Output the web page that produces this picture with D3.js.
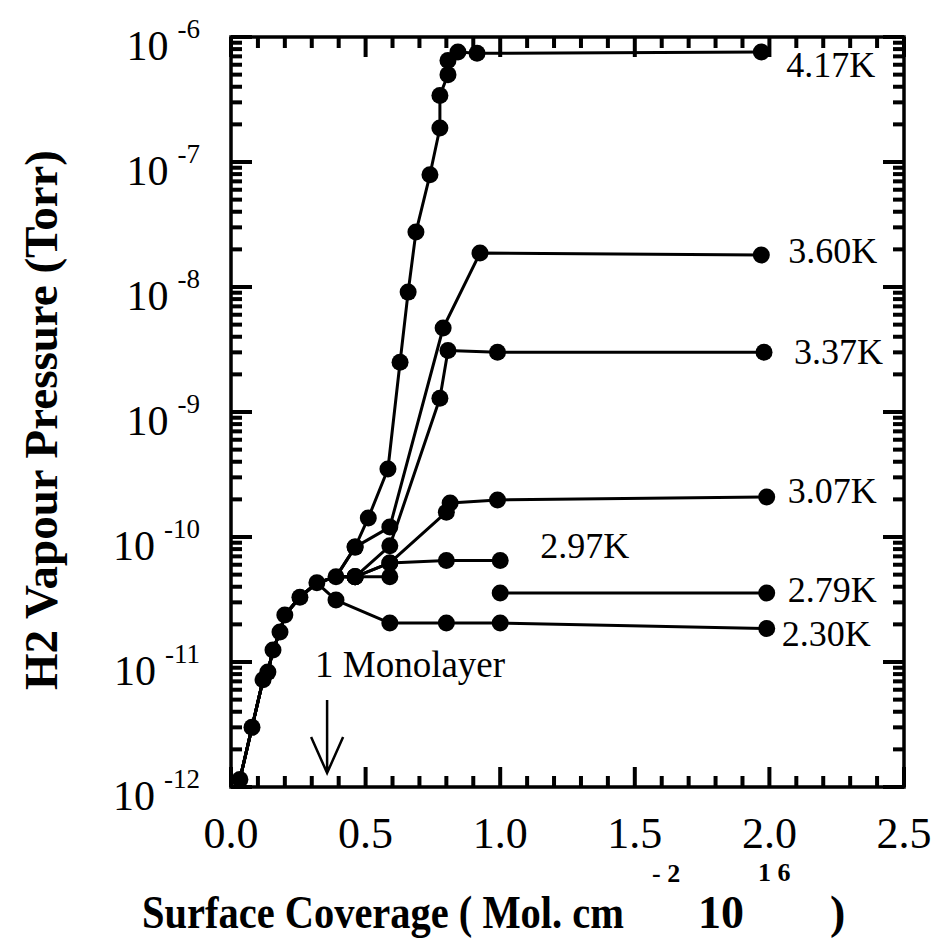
<!DOCTYPE html>
<html><head><meta charset="utf-8">
<script src="https://cdn.jsdelivr.net/npm/d3@7"></script>
<style>
body{margin:0;background:#fff}
text{font-family:"Liberation Serif","Times New Roman",serif;fill:#000}
</style>
</head><body>
<svg id="c" width="938" height="945"></svg>
<script>
// ---------- data ----------
const xMajorTicks = [0, 0.5, 1.0, 1.5, 2.0, 2.5];
const xTickLabels = ["0.0", "0.5", "1.0", "1.5", "2.0", "2.5"];
const yDecadeExponents = [-6, -7, -8, -9, -10, -11, -12];

// common low-coverage branch (coverage, pressure Torr)
const sharedBranch = [[0.033,1.15e-12],[0.078,3.0e-12],[0.119,7.2e-12],[0.137,8.3e-12],[0.156,1.25e-11],[0.182,1.74e-11],[0.2,2.38e-11],[0.256,3.3e-11],[0.319,4.3e-11]];
const peakPoint = [[0.39,4.8e-11]];

const series417 = [[0.461,8.3e-11],[0.51,1.42e-10],[0.583,3.5e-10],[0.628,2.5e-9],[0.658,9.1e-9],[0.687,2.75e-8],[0.739,7.9e-8],[0.776,1.87e-7],[0.776,3.4e-7],[0.806,5.0e-7],[0.806,6.5e-7],[0.843,7.6e-7],[0.914,7.4e-7],[1.97,7.6e-7]];
const series360 = [[0.461,8.3e-11],[0.59,1.2e-10],[0.788,4.7e-9],[0.925,1.87e-8],[1.97,1.8e-8]];
const series337 = [[0.461,4.8e-11],[0.59,8.5e-11],[0.776,1.29e-9],[0.806,3.1e-9],[0.99,3.0e-9],[1.98,3.0e-9]];
const series307 = [[0.461,4.8e-11],[0.59,6.2e-11],[0.80,1.58e-10],[0.814,1.87e-10],[0.99,1.98e-10],[1.99,2.09e-10]];
const series297 = [[0.461,4.8e-11],[0.59,6.2e-11],[0.80,6.5e-11],[1.0,6.5e-11]];
const series279low = [[0.461,4.8e-11],[0.59,4.8e-11]];
const series279 = [[1.0,3.56e-11],[1.99,3.56e-11]];
const series230 = [[0.39,3.13e-11],[0.59,2.05e-11],[0.80,2.05e-11],[1.0,2.05e-11],[1.99,1.85e-11]];

const seriesLabels = ["4.17K","3.60K","3.37K","3.07K","2.97K","2.79K","2.30K"];
const monolayerCoverage = 0.357;

// ---------- layout ----------
const plot = {left: 231, right: 904, top: 37, bottom: 787};
const labelOffsets = [[25,25],[27,8],[30,12],[21,6],[40,-2],[21,9],[15,17]];

const svg = d3.select("#c");
const x = d3.scaleLinear().domain([0, 2.5]).range([plot.left, plot.right]);
const y = d3.scaleLog().domain([1e-12, 1e-6]).range([plot.bottom, plot.top]);

const minorX = d3.range(1, 25).filter(i => i % 5 !== 0).map(i => i / 10);
const majorY = yDecadeExponents.map(e => Math.pow(10, e));
const minorY = [];
for (let e = -12; e < -6; e++) for (let k = 2; k <= 9; k++) minorY.push(k * Math.pow(10, e));

// frame
svg.append("rect").attr("x", plot.left).attr("y", plot.top)
  .attr("width", plot.right - plot.left).attr("height", plot.bottom - plot.top)
  .attr("fill", "none").attr("stroke", "#000").attr("stroke-width", 3.5);

// ticks (inward) drawn as filled rects
const tickW = 4;
const xt = [];
xMajorTicks.forEach(v => xt.push({p: x(v), len: 20}));
minorX.forEach(v => xt.push({p: x(v), len: 11}));
const ytk = [];
majorY.forEach(v => ytk.push({p: y(v), len: 21}));
minorY.forEach(v => ytk.push({p: y(v), len: 11}));
const tg = svg.append("g").attr("fill", "#000");
tg.selectAll("rect.xb").data(xt).join("rect").attr("class", "xb")
  .attr("x", d => d.p - tickW / 2).attr("y", d => plot.bottom - d.len).attr("width", tickW).attr("height", d => d.len);
tg.selectAll("rect.xtp").data(xt).join("rect").attr("class", "xtp")
  .attr("x", d => d.p - tickW / 2).attr("y", plot.top).attr("width", tickW).attr("height", d => d.len);
tg.selectAll("rect.yl").data(ytk).join("rect").attr("class", "yl")
  .attr("x", plot.left).attr("y", d => d.p - tickW / 2).attr("width", d => d.len).attr("height", tickW);
tg.selectAll("rect.yr").data(ytk).join("rect").attr("class", "yr")
  .attr("x", d => plot.right - d.len).attr("y", d => d.p - tickW / 2).attr("width", d => d.len).attr("height", tickW);

// x tick labels
svg.append("g").selectAll("text").data(xMajorTicks).join("text")
  .attr("x", d => x(d)).attr("y", 848).attr("text-anchor", "middle")
  .attr("font-size", 44).text((d, i) => xTickLabels[i]);

// y tick labels 10^n
const yl = svg.append("g").selectAll("text").data(yDecadeExponents).join("text")
  .attr("x", 200).attr("y", e => y(Math.pow(10, e)) + 23)
  .attr("text-anchor", "end").attr("font-size", 42);
yl.append("tspan").text("10");
yl.append("tspan").attr("dx", 9).attr("dy", -22).attr("font-size", 27).text(e => "-" + Math.abs(e));

// series
const segs = [
  sharedBranch.concat(peakPoint, series417),
  sharedBranch.concat(peakPoint, series360),
  sharedBranch.concat(peakPoint, series337),
  sharedBranch.concat(peakPoint, series307),
  sharedBranch.concat(peakPoint, series297),
  peakPoint.concat(series279low),
  series279,
  sharedBranch.concat(series230)
];
const line = d3.line().x(d => x(d[0])).y(d => y(d[1]));
svg.append("g").selectAll("path").data(segs).join("path")
  .attr("d", line).attr("fill", "none").attr("stroke", "#000")
  .attr("stroke-width", 3).attr("stroke-linejoin", "round");
const allPts = [].concat(sharedBranch, peakPoint, series417, series360, series337, series307, series297, series279low, series279, series230);
svg.append("g").selectAll("circle").data(allPts).join("circle")
  .attr("cx", d => x(d[0])).attr("cy", d => y(d[1])).attr("r", 8.5).attr("fill", "#000");

// series labels
const lastPts = [series417, series360, series337, series307, series297, series279, series230].map(s => s[s.length - 1]);
svg.append("g").selectAll("text").data(seriesLabels).join("text")
  .attr("x", (d, i) => x(lastPts[i][0]) + labelOffsets[i][0])
  .attr("y", (d, i) => y(lastPts[i][1]) + labelOffsets[i][1])
  .attr("font-size", 36).text(d => d);

// monolayer annotation
const mx = x(monolayerCoverage);
svg.append("text").attr("x", 315).attr("y", 677).attr("font-size", 37).text("1 Monolayer");
svg.append("path").attr("d", `M${mx},700 L${mx},773 M${mx-16},737 L${mx},773 L${mx+16},737`)
  .attr("fill", "none").attr("stroke", "#000").attr("stroke-width", 2.5);

// x axis title (single text element)
const xtt = svg.append("text").attr("y", 928).attr("font-size", 46).attr("font-weight", "bold");
xtt.append("tspan").attr("x", 142).attr("textLength", 482).attr("lengthAdjust", "spacingAndGlyphs").text("Surface Coverage ( Mol. cm");
xtt.append("tspan").attr("x", 652).attr("y", 882).attr("font-size", 26).text("- 2");
xtt.append("tspan").attr("x", 698).attr("y", 928).text("10");
xtt.append("tspan").attr("x", 758).attr("y", 881).attr("font-size", 26).text("1 6");
xtt.append("tspan").attr("x", 830).attr("y", 928).text(")");

svg.append("text").attr("transform", "translate(57,420) rotate(-90)")
  .attr("text-anchor", "middle").attr("font-size", 46).attr("font-weight", "bold")
  .attr("textLength", 540).attr("lengthAdjust", "spacingAndGlyphs")
  .text("H2 Vapour Pressure (Torr)");
</script>
</body></html>
